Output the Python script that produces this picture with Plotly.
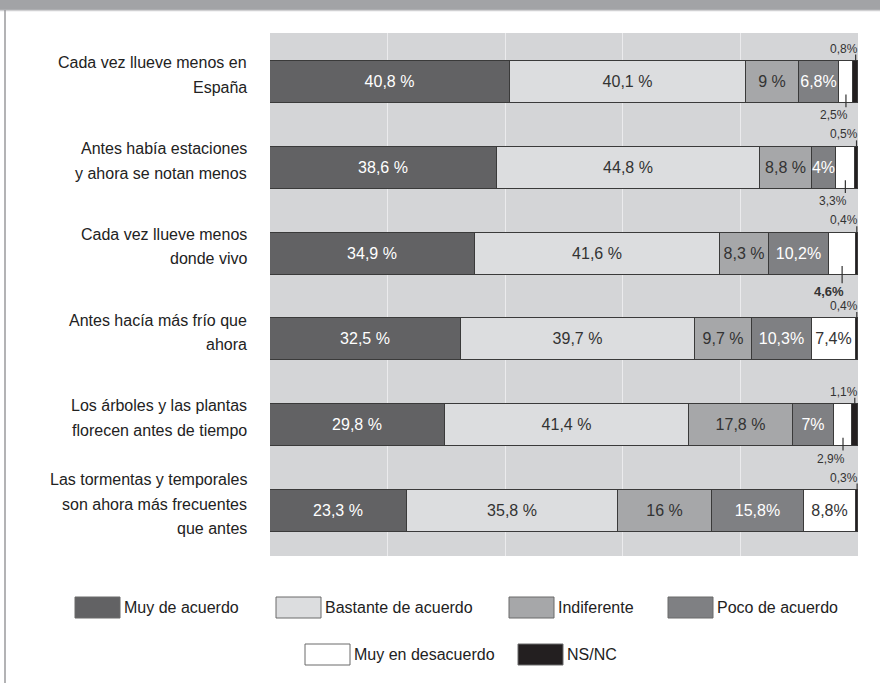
import plotly.graph_objects as go

# ---------------- data ----------------
categories = [
    "Cada vez llueve menos en<br>España",
    "Antes había estaciones<br>y ahora se notan menos",
    "Cada vez llueve menos<br>donde vivo",
    "Antes hacía más frío que<br>ahora",
    "Los árboles y las plantas<br>florecen antes de tiempo",
    "Las tormentas y temporales<br>son ahora más frecuentes<br>que antes",
]
series_names = ["Muy de acuerdo", "Bastante de acuerdo", "Indiferente",
                "Poco de acuerdo", "Muy en desacuerdo", "NS/NC"]
muy_de_acuerdo = [40.8, 38.6, 34.9, 32.5, 29.8, 23.3]
bastante_de_acuerdo = [40.1, 44.8, 41.6, 39.7, 41.4, 35.8]
indiferente = [9, 8.8, 8.3, 9.7, 17.8, 16]
poco_de_acuerdo = [6.8, 4, 10.2, 10.3, 7, 15.8]
muy_en_desacuerdo = [2.5, 3.3, 4.6, 7.4, 2.9, 8.8]
ns_nc = [0.8, 0.5, 0.4, 0.4, 1.1, 0.3]

series_values = [muy_de_acuerdo, bastante_de_acuerdo, indiferente,
                 poco_de_acuerdo, muy_en_desacuerdo, ns_nc]

# ---------------- style ----------------
colors = ["#626264", "#dcdddf", "#a6a7a9", "#7f8083", "#ffffff", "#231f20"]
text_colors = ["#ffffff", "#333333", "#333333", "#ffffff", "#333333", "#ffffff"]
suffixes = [" %", " %", " %", "%", "%", "%"]
FONT = "Liberation Sans, Arial, sans-serif"

W, H = 880, 683
ML, MR, MT, MB = 270, 22, 33, 127
PW = W - ML - MR
PH = H - MT - MB
BAR_W = 0.49
INSIDE_MIN = 5.0
LINE_GAP = 24.5


def px_x(X):
    return (X - ML) / PW


def px_y(Y):
    return (H - MB - Y) / PH


def fmt(v, suffix):
    return f"{v:g}".replace(".", ",") + suffix


ypos = list(range(len(categories)))

fig = go.Figure()
for si, (name, vals) in enumerate(zip(series_names, series_values)):
    texts = []
    for v in vals:
        inside = si < 4 or (si == 4 and v >= INSIDE_MIN)
        texts.append(fmt(v, suffixes[si]) if inside else "")
    fig.add_trace(go.Bar(
        name=name, x=vals, y=ypos, orientation="h", width=BAR_W,
        marker=dict(color=colors[si], line=dict(color="#3a3a3a", width=1)),
        text=texts, textposition="inside", insidetextanchor="middle", textangle=0,
        textfont=dict(family=FONT, size=16, color=text_colors[si]),
        showlegend=False, hoverinfo="x+name",
    ))

annotations = []
shapes = []

# category labels (one annotation per line for exact line spacing)
for i, cat in enumerate(categories):
    lines = cat.split("<br>")
    n = len(lines)
    for k, line in enumerate(lines):
        annotations.append(dict(
            x=0, xref="paper", y=i, yref="y", text=line, showarrow=False,
            xanchor="right", yanchor="middle", align="right", xshift=-21,
            yshift=7 + (n - 1) / 2 * LINE_GAP - k * LINE_GAP,
            font=dict(family=FONT, size=16, color="#222222"),
        ))

# outside small labels
for i in ypos:
    total = sum(s[i] for s in series_values)
    # NS/NC above
    nv = ns_nc[i]
    ncenter = total - nv / 2
    top = i - BAR_W / 2
    shapes.append(dict(type="line", xref="x", yref="y", x0=ncenter, x1=ncenter,
                       y0=top, y1=top - 0.075, line=dict(color="#333333", width=1.2)))
    annotations.append(dict(
        x=total, y=top - 0.075, xref="x", yref="y", text=fmt(nv, "%"), showarrow=False,
        xanchor="right", yanchor="bottom", xshift=2, yshift=-3,
        font=dict(family=FONT, size=12, color="#333333"),
    ))
    # Muy en desacuerdo below when it does not fit inside
    dv = muy_en_desacuerdo[i]
    if dv < INSIDE_MIN:
        dcenter = total - nv - dv / 2
        bot = i + BAR_W / 2
        bold = dv == max(v for v in muy_en_desacuerdo if v < INSIDE_MIN)
        ext = 0.1 if bold else 0.05
        shapes.append(dict(type="line", xref="x", yref="y", x0=dcenter, x1=dcenter,
                           y0=bot - 0.1, y1=bot + ext, line=dict(color="#333333", width=1.2)))
        txt = fmt(dv, "%")
        annotations.append(dict(
            x=dcenter, y=bot + ext, xref="x", yref="y",
            text=f"<b>{txt}</b>" if bold else txt, showarrow=False,
            xanchor="right", yanchor="top", xshift=4, yshift=1,
            font=dict(family=FONT, size=13 if bold else 12, color="#333333"),
        ))

# header band and frame
shapes.append(dict(type="rect", xref="paper", yref="paper", x0=px_x(0), x1=px_x(W),
                   y0=px_y(10), y1=px_y(0), fillcolor="#a2a3a6", line=dict(width=0), layer="below"))
shapes.append(dict(type="line", xref="paper", yref="paper", x0=px_x(0), x1=px_x(W),
                   y0=px_y(10.5), y1=px_y(10.5), line=dict(color="#d0d0d2", width=1.5)))
shapes.append(dict(type="line", xref="paper", yref="paper", x0=px_x(5), x1=px_x(5),
                   y0=px_y(10), y1=px_y(H), line=dict(color="#9a9a9c", width=1.5)))

# custom legend
legend_box_x = [75, 276, 509, 668, 305, 518]
legend_row = [0, 0, 0, 0, 1, 1]
legend_row_top = [597, 644]
BOX_W, BOX_H = 45, 21
for si, name in enumerate(series_names):
    bx = legend_box_x[si]
    by = legend_row_top[legend_row[si]]
    shapes.append(dict(type="rect", xref="paper", yref="paper",
                       x0=px_x(bx), x1=px_x(bx + BOX_W), y0=px_y(by + BOX_H), y1=px_y(by),
                       fillcolor=colors[si], line=dict(color="#6a6a6a", width=1)))
    annotations.append(dict(
        x=px_x(bx + BOX_W + 2), y=px_y(by + BOX_H / 2), xref="paper", yref="paper",
        text=name, showarrow=False, xanchor="left", yanchor="middle",
        font=dict(family=FONT, size=16, color="#222222"),
    ))

fig.update_layout(
    width=W, height=H, barmode="stack", bargap=0,
    margin=dict(l=ML, r=MR, t=MT, b=MB, pad=0),
    paper_bgcolor="#ffffff", plot_bgcolor="#d4d5d7",
    font=dict(family=FONT, color="#222222"),
    uniformtext=dict(minsize=16, mode="show"),
    xaxis=dict(range=[0, 100], dtick=20, showgrid=True, gridcolor="#ebebed", gridwidth=1.2,
               showticklabels=False, zeroline=False, showline=False, ticks="", fixedrange=True),
    yaxis=dict(range=[5.524, -0.571], showgrid=False, showticklabels=False, zeroline=False,
               showline=False, ticks="", fixedrange=True),
    annotations=annotations, shapes=shapes, showlegend=False,
)

fig.write_html("out.html", config={"displayModeBar": False},
               post_script="document.body.style.margin='0';")
